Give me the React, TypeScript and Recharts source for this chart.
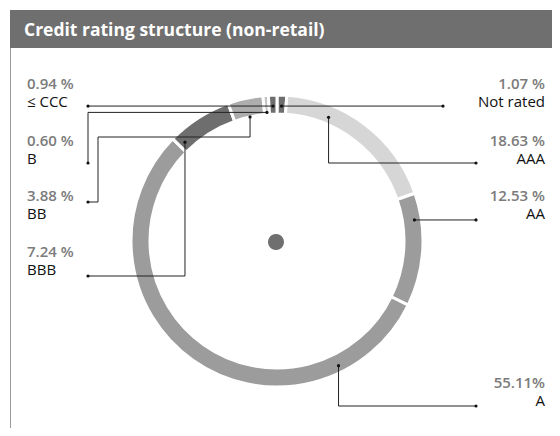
import { PieChart, Pie, Cell } from 'recharts';

const ratings = ['Not rated', 'AAA', 'AA', 'A', 'BBB', 'BB', 'B', '≤ CCC'];
const shares = [1.07, 18.63, 12.53, 55.11, 7.24, 3.88, 0.6, 0.94];
const shareLabels = ['1.07 %', '18.63 %', '12.53 %', '55.11%', '7.24 %', '3.88 %', '0.60 %', '0.94 %'];
const sliceColors = ['#6e6e6e', '#d6d6d6', '#9c9c9c', '#9c9c9c', '#6e6e6e', '#adadad', '#c4c4c4', '#6e6e6e'];

const data = ratings.map((name, i) => ({ name, value: shares[i], label: shareLabels[i] }));
const hub = [{ name: 'hub', value: 1 }];

// where each callout sits and how its leader line is routed
type Step = ['H' | 'V', number];
const callouts: { side: 'left' | 'right'; y: number; at: number; r: number; route: Step[] }[] = [
  { side: 'right', y: 89, at: 0.5, r: 135, route: [['H', 443]] },
  { side: 'right', y: 146, at: 0.28, r: 134, route: [['V', 163], ['H', 476]] },
  { side: 'right', y: 201, at: 0.23, r: 139, route: [['H', 476]] },
  { side: 'right', y: 388, at: 0.19, r: 139, route: [['V', 406], ['H', 476]] },
  { side: 'left', y: 257, at: 0.1, r: 135, route: [['V', 276], ['H', 88]] },
  { side: 'left', y: 201, at: 0.52, r: 127, route: [['V', 137], ['H', 98], ['V', 202], ['H', 88]] },
  { side: 'left', y: 146, at: 0.5, r: 129, route: [['H', 88], ['V', 163]] },
  { side: 'left', y: 89, at: 0.5, r: 135, route: [['H', 88]] },
];

const RAD = Math.PI / 180;
const FONT = '"Open Sans", "Noto Sans", sans-serif';

function Callout(props: any) {
  const { cx, cy, startAngle, endAngle, index } = props;
  const c = callouts[index];
  const ang = startAngle + (endAngle - startAngle) * c.at;
  const ax = cx + c.r * Math.cos(-ang * RAD);
  const ay = cy + c.r * Math.sin(-ang * RAD);
  let x = ax;
  let y = ay;
  let d = `M${ax},${ay}`;
  c.route.forEach(([dir, v]) => {
    if (dir === 'H') x = v;
    else y = v;
    d += ` L${x},${y}`;
  });
  const tx = c.side === 'left' ? 27 : 545;
  const anchor = c.side === 'left' ? 'start' : 'end';
  return (
    <g>
      <path d={d} stroke="#222" strokeWidth={1} fill="none" />
      <circle cx={ax} cy={ay} r={1.6} fill="#111" />
      <circle cx={x} cy={y} r={1.6} fill="#111" />
      <text x={tx} y={c.y} textAnchor={anchor} fontSize={15} fontWeight={600} fill="#7b7b7b" fontFamily={FONT}>
        {data[index].label}
      </text>
      <text x={tx} y={c.y + 18} textAnchor={anchor} fontSize={15} fill="#111" fontFamily={FONT}>
        {data[index].name}
      </text>
    </g>
  );
}

export default function App() {
  return (
    <div style={{ position: 'relative', width: 560, height: 436, margin: -8, background: '#fff', fontFamily: FONT }}>
      <div
        style={{
          position: 'absolute',
          left: 10,
          top: 10,
          width: 550,
          height: 38,
          background: '#6f6f6f',
          color: '#fff',
          fontWeight: 700,
          fontSize: 17.5,
          lineHeight: '38px',
          paddingLeft: 14,
          boxSizing: 'border-box',
        }}
      >
        Credit rating structure (non-retail)
      </div>
      <div style={{ position: 'absolute', left: 10, top: 48, width: 1, height: 388, background: '#9a9a9a' }} />
      <div style={{ position: 'absolute', left: 0, top: 0 }}>
        <PieChart width={560} height={436} margin={{ top: 0, right: 0, bottom: 0, left: 0 }}>
          <Pie
            data={data}
            dataKey="value"
            cx={277}
            cy={241}
            innerRadius={127}
            outerRadius={146}
            startAngle={90}
            endAngle={-270}
            stroke="#fff"
            strokeWidth={3}
            label={Callout}
            labelLine={false}
            isAnimationActive={false}
          >
            {data.map((d, i) => (
              <Cell key={d.name} fill={sliceColors[i]} />
            ))}
          </Pie>
          <Pie
            data={hub}
            dataKey="value"
            cx={276}
            cy={242}
            innerRadius={0}
            outerRadius={8}
            fill="#6f6f6f"
            stroke="none"
            isAnimationActive={false}
          />
        </PieChart>
      </div>
    </div>
  );
}
